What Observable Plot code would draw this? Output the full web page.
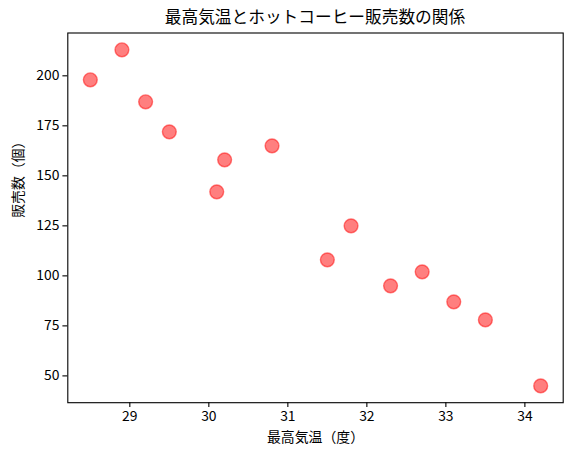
<!DOCTYPE html>
<html><head><meta charset="utf-8">
<script src="https://cdn.jsdelivr.net/npm/d3@7"></script>
<script src="https://cdn.jsdelivr.net/npm/@observablehq/plot@0.6"></script>
<style>
body{margin:0;background:#fff;}
#wrap{width:573px;font-family:"Noto Sans CJK JP","Noto Sans",sans-serif;}
#title{height:32px;position:relative;}
#title span{position:absolute;left:315px;top:6px;transform:translateX(-50%);font-size:16.7px;white-space:nowrap;color:#000;line-height:20px;}
</style></head>
<body><div id="wrap"><div id="title"><span>最高気温とホットコーヒー販売数の関係</span></div><div id="chart"></div></div>
<script>
const temperature = [28.5, 28.9, 29.2, 29.5, 30.1, 30.2, 30.8, 31.5, 31.8, 32.3, 32.7, 33.1, 33.5, 34.2];
const sales = [198, 213, 187, 172, 142, 158, 165, 108, 125, 95, 102, 87, 78, 45];
const xTicks = [29, 30, 31, 32, 33, 34];
const yTicks = [50, 75, 100, 125, 150, 175, 200];
const xLabel = "最高気温（度）";
const yLabel = "販売数（個）";

const data = temperature.map((t, i) => ({t, s: sales[i]}));

const chart = Plot.plot({
  width: 573,
  height: 423,
  marginLeft: 67.3,
  marginRight: 10.3,
  marginTop: 0.5,
  marginBottom: 52.8,
  style: {fontFamily: '"Noto Sans CJK JP","Noto Sans",sans-serif', fontSize: "13.9px", color: "#000", background: "#fff"},
  x: {domain: [28.215, 34.485]},
  y: {domain: [36.6, 221.4]},
  marks: [
    Plot.axisX({ticks: xTicks, tickSize: 4.9, tickPadding: 3.5, tickFormat: d => d, label: null, strokeWidth: 1.1}),
    Plot.axisY({ticks: yTicks, tickSize: 4.9, tickPadding: 3.5, tickFormat: d => d, label: null, strokeWidth: 1.1}),
    Plot.dot(data, {x: "t", y: "s", r: 6.9, fill: "red", fillOpacity: 0.5, stroke: "red", strokeOpacity: 0.5, strokeWidth: 1.4}),
    Plot.frame({stroke: "#000", strokeWidth: 1.1}),
    Plot.text([xLabel], {frameAnchor: "bottom", dy: 35, lineAnchor: "middle", text: d => d, fontSize: 13.9}),
    Plot.text([yLabel], {frameAnchor: "left", dx: -49, rotate: -90, lineAnchor: "middle", text: d => d, fontSize: 13.9})
  ]
});
document.getElementById("chart").appendChild(chart);
</script>
</body></html>
